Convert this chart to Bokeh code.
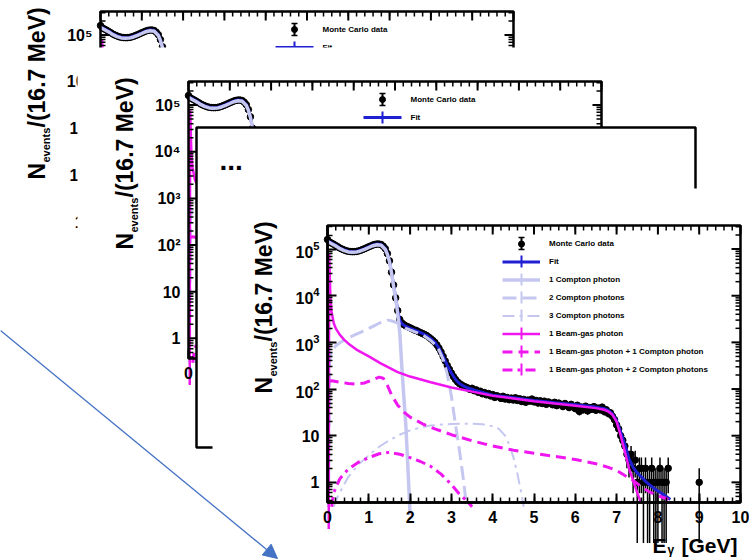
import numpy as np
from bokeh.plotting import figure
from bokeh.models import (Range1d, LinearScale, LogScale, LinearAxis, LogAxis, FixedTicker,
                          LogTickFormatter, Legend, LegendItem, Arrow, NormalHead)
from bokeh.core.properties import value
from bokeh.embed import file_html
from bokeh.resources import INLINE

# ---------------- data ----------------
mc_step = 0.05
mc_y = [1.6e5, 1.42e5, 1.34e5, 1.27e5, 1.19e5, 1.12e5, 1.05e5, 1.0e5, 9.6e4, 9.2e4,
        9.0e4, 8.85e4, 8.8e4, 8.8e4, 8.9e4, 9.1e4, 9.4e4, 9.8e4, 1.02e5, 1.07e5,
        1.12e5, 1.17e5, 1.22e5, 1.26e5, 1.28e5, 1.28e5, 1.25e5, 1.15e5, 1.02e5, 8.0e4,
        5.6e4, 3.2e4, 1.7e4, 9.0e3, 4.8e3, 3.1e3, 2.6e3, 2.4e3, 2.25e3, 2.15e3,
        2.05e3, 1.95e3, 1.85e3, 1.8e3, 1.7e3, 1.62e3, 1.55e3, 1.48e3, 1.4e3, 1.3e3,
        1.2e3, 1.1e3, 1.0e3, 880, 750, 620, 500, 400, 320, 265,
        220, 185, 160, 142, 130, 122, 115, 110, 105,
        98, 104, 92, 96, 85, 90, 79, 84, 75, 80,
        71, 76, 66, 72, 68, 63, 70, 61, 66, 59,
        64, 58, 65, 57, 62, 54, 60, 52, 58, 55,
        61, 53, 57, 50, 56, 49, 55, 47, 53, 50,
        46, 52, 44, 50, 46, 42, 49, 44, 40, 47,
        42, 38, 45, 33, 41, 36, 43, 34, 40, 37,
        42, 35, 39, 36, 41, 33, 36, 30, 31, 26,
        22, 17, 14, 10, 8, 6, 4, 3, 4, 2,
        3, 1, 2, 2, 1, 2, 1, 1, 2, 1,
        1, 1, 2, 1, 1, 1, 2]
mc_extra_x = [9.0]
mc_extra_y = [1]

fit_x = [0.0, 0.1, 0.2, 0.3, 0.4, 0.5, 0.6, 0.7, 0.8, 0.9, 1.0, 1.1, 1.2, 1.3, 1.4,
         1.45, 1.5, 1.55, 1.6, 1.65, 1.7, 1.75, 1.8,
         1.9, 2.0, 2.1, 2.2, 2.3, 2.4, 2.5, 2.6, 2.7, 2.8, 2.9, 3.0, 3.1, 3.2, 3.3, 3.4,
         3.6, 3.8, 4.0, 4.5, 5.0, 5.5, 6.0, 6.5,
         6.7, 6.8, 6.9, 7.0, 7.1, 7.2, 7.3, 7.4, 7.5, 7.6, 7.7, 7.8, 7.9, 8.0, 8.1, 8.2, 8.3]
fit_y = [1.5e5, 1.35e5, 1.2e5, 1.05e5, 9.6e4, 9.0e4, 8.8e4, 8.9e4, 9.4e4, 1.02e5, 1.12e5, 1.22e5, 1.28e5, 1.25e5, 1.02e5,
         8.0e4, 5.6e4, 3.2e4, 1.7e4, 9.0e3, 4.8e3, 3.0e3, 2.5e3,
         2.2e3, 2.0e3, 1.85e3, 1.7e3, 1.55e3, 1.4e3, 1.2e3, 1.0e3, 750, 500, 320, 220, 160, 130, 115, 105,
         92, 82, 74, 65, 57, 51, 46, 41,
         38, 35, 29, 21, 12, 6.5, 3.2, 2.1, 1.6, 1.3, 1.05, 0.88, 0.75, 0.65, 0.57, 0.5, 0.43]

c1_x = [0.0, 0.1, 0.2, 0.3, 0.4, 0.5, 0.6, 0.7, 0.8, 0.9, 1.0, 1.1, 1.2, 1.3, 1.4,
        1.45, 1.5, 1.55, 1.6, 1.65, 1.7, 1.75, 1.8, 1.85, 1.9, 1.95, 2.0]
c1_y = [1.45e5, 1.3e5, 1.16e5, 1.02e5, 9.3e4, 8.7e4, 8.5e4, 8.6e4, 9.1e4, 9.9e4, 1.08e5, 1.18e5, 1.24e5, 1.21e5, 9.8e4,
        7.7e4, 5.4e4, 3.1e4, 1.6e4, 8.5e3, 4.2e3, 1.6e3, 300, 65, 15, 1.8, 0.2]

c2_x = [0.02, 0.05, 0.1, 0.2, 0.3, 0.5, 0.7, 0.9, 1.1, 1.3, 1.45, 1.55, 1.7,
        1.9, 2.1, 2.3, 2.5, 2.6, 2.7, 2.8, 2.9, 3.0, 3.1, 3.2, 3.3, 3.35]
c2_y = [0.3, 400, 650, 850, 980, 1.25e3, 1.5e3, 1.8e3, 2.2e3, 2.7e3, 3.0e3, 2.9e3, 2.6e3,
        2.0e3, 1.7e3, 1.45e3, 1.1e3, 900, 680, 430, 210, 70, 17, 4.5, 1.0, 0.4]

c3_x = [0.15, 0.25, 0.5, 0.75, 1.0, 1.25, 1.5, 1.75, 2.0, 2.25, 2.5, 2.75,
        3.0, 3.25, 3.5, 3.75, 4.0, 4.15, 4.3, 4.4, 4.5, 4.6, 4.7, 4.75]
c3_y = [0.3, 0.5, 1.3, 2.4, 3.8, 5.8, 8.0, 10.5, 13, 15, 16.5, 17.3,
        17.8, 18, 18, 17.5, 16, 14, 10, 6.5, 3.5, 1.5, 0.55, 0.3]

bg1_x = [0.03, 0.04, 0.07, 0.1, 0.15, 0.2, 0.3, 0.4, 0.5, 0.7,
         1.0, 1.3, 1.7, 2.0, 2.5, 3.0, 3.5, 4.0, 4.5, 5.0,
         5.5, 6.0, 6.5, 6.7, 6.8, 6.9, 7.0, 7.1, 7.2, 7.3,
         7.4, 7.5, 7.6]
bg1_y = [0.1, 8e4, 9e3, 4.5e3, 2.6e3, 2.0e3, 1.45e3, 1.15e3, 950, 700,
         500, 350, 230, 185, 140, 108, 88, 72, 63, 55,
         49, 44, 39, 36, 33, 28, 20, 10, 4.5, 2.0,
         1.1, 0.6, 0.35]

bg1c1_x = [0.03, 0.1, 0.3, 0.5, 0.7, 0.9, 1.1, 1.25, 1.35, 1.45,
           1.55, 1.7, 1.85, 2.0, 2.3, 2.6, 3.0, 3.5, 4.0, 4.5,
           5.0, 5.5, 6.0, 6.5, 6.8, 7.0, 7.2, 7.4, 7.6, 7.8,
           8.0, 8.2, 8.35]
bg1c1_y = [145, 150, 140, 132, 128, 135, 160, 180, 170, 120,
           75, 45, 32, 25, 18, 14, 10.5, 7.8, 6.0, 4.9,
           4.2, 3.6, 3.1, 2.5, 2.1, 1.8, 1.4, 1.1, 0.8, 0.62,
           0.52, 0.45, 0.38]

bg1c2_x = [0.1, 0.15, 0.3, 0.5, 0.75, 1.0, 1.25, 1.5, 1.75, 2.0, 2.25, 2.5, 2.75, 3.0, 3.2, 3.4, 3.5]
bg1c2_y = [0.3, 0.6, 1.2, 1.9, 2.7, 3.4, 4.1, 4.4, 4.0, 3.4, 2.8, 2.2, 1.5, 0.9, 0.55, 0.38, 0.3]

legend_labels = ["Monte Carlo data", "Fit", "1 Compton photon", "2 Compton photons",
                 "3 Compton photons", "1 Beam-gas photon",
                 "1 Beam-gas photon + 1 Compton photon",
                 "1 Beam-gas photon + 2 Compton photons"]
x_ticks = [0, 1, 2, 3, 4, 5, 6, 7, 8, 9, 10]
y_ticks = [1, 10, 100, 1000, 10000, 100000]
y_tick_text = ["1", "10", "10\u00b2", "10\u00b3", "10\u2074", "10\u2075"]

# ---------------- derived ----------------
mc_x_all = list(np.round(np.arange(len(mc_y)) * mc_step, 2)) + mc_extra_x
mc_y_all = np.array(mc_y + mc_extra_y, dtype=float)
mc_err = np.sqrt(mc_y_all)
mc_lo = np.maximum(mc_y_all - mc_err, 0.05)
mc_hi = mc_y_all + mc_err

# ---------------- geometry (canvas pixels) ----------------
W, H = 749, 559
FL, FR, FT, FB = 327, 740, 225, 502          # front frame
X0, X1, Y0, Y1 = 0.0, 10.0, 0.37, 3.2e5
KX = (FR - FL) / (X1 - X0)
KY = (FB - FT) / (np.log10(Y1) - np.log10(Y0))
P1 = (-227, -214)
P2 = (-139, -144)

FONT = value("Liberation Sans")
BLUE = "#1f1fd4"
LAV = "#c5c7f0"
MAG = "#f016f0"
ARROW_C = "#4472c4"


def panel_ranges(dx, dy):
    fl, fb = FL + dx, FB + dy
    ly0 = np.log10(Y0)
    xr = Range1d(X0 - fl / KX, X0 + (W - fl) / KX)
    yr = Range1d(10 ** (ly0 - (H - fb) / KY), 10 ** (ly0 + fb / KY))
    return xr, yr


xr0, yr0 = panel_ranges(0, 0)
p = figure(width=W, height=H, x_range=xr0, y_range=yr0, y_axis_type="log",
           x_axis_location=None, y_axis_location=None, toolbar_location=None,
           output_backend="svg", min_border=0, outline_line_color=None,
           background_fill_color="white", border_fill_color="white")
p.grid.visible = False

x1r, y1r = panel_ranges(*P1)
x2r, y2r = panel_ranges(*P2)
p.extra_x_ranges = {"p1x": x1r, "p2x": x2r, "px": Range1d(0, W)}
p.extra_y_ranges = {"p1y": y1r, "p2y": y2r, "px": Range1d(H, 0)}
p.extra_x_scales = {"p1x": LinearScale(), "p2x": LinearScale(), "px": LinearScale()}
p.extra_y_scales = {"p1y": LogScale(), "p2y": LogScale(), "px": LinearScale()}

PX = dict(x_range_name="px", y_range_name="px")
x_minor = [round(0.2 * i, 1) for i in range(51)]
y_minor = [k * 10 ** n for n in range(-1, 6) for k in range(2, 10) if Y0 <= k * 10 ** n <= Y1]


def draw_series(xn, yn):
    kw = dict(x_range_name=xn, y_range_name=yn)
    r = {}
    r["err"] = p.segment(mc_x_all, mc_lo, mc_x_all, mc_hi, line_color="black", line_width=1.5, **kw)
    r["mc"] = p.scatter(mc_x_all, list(mc_y_all), size=6.5, marker="circle",
                        fill_color="black", line_color="black", **kw)
    r["fit"] = p.line(fit_x, fit_y, line_color=BLUE, line_width=3, **kw)
    r["c1"] = p.line(c1_x, c1_y, line_color=LAV, line_width=3.5, **kw)
    r["c2"] = p.line(c2_x, c2_y, line_color=LAV, line_width=3, line_dash="14 6", **kw)
    r["c3"] = p.line(c3_x, c3_y, line_color=LAV, line_width=2, line_dash="12 5 3 5", **kw)
    r["bg1"] = p.line(bg1_x, bg1_y, line_color=MAG, line_width=2.5, **kw)
    r["bg1c1"] = p.line(bg1c1_x, bg1c1_y, line_color=MAG, line_width=3, line_dash="10 6", **kw)
    r["bg1c2"] = p.line(bg1c2_x, bg1c2_y, line_color=MAG, line_width=3, line_dash="10 5 3 5", **kw)
    return r


def draw_ticks(xn, yn, sides):
    kw = dict(x_range_name=xn, y_range_name=yn, line_color="black")
    fy_maj, fy_min = 10 ** (9 / KY), 10 ** (5 / KY)
    fx_maj, fx_min = 9 / KX, 5 / KX
    xm = [float(t) for t in x_ticks]
    n, m = len(xm), len(x_minor)
    ny, my = len(y_ticks), len(y_minor)
    if "top" in sides:
        p.segment(xm, [Y1] * n, xm, [Y1 / fy_maj] * n, line_width=2, **kw)
        p.segment(x_minor, [Y1] * m, x_minor, [Y1 / fy_min] * m, line_width=1.5, **kw)
    if "bottom" in sides:
        p.segment(xm, [Y0] * n, xm, [Y0 * fy_maj] * n, line_width=2, **kw)
        p.segment(x_minor, [Y0] * m, x_minor, [Y0 * fy_min] * m, line_width=1.5, **kw)
    if "left" in sides:
        p.segment([X0] * ny, y_ticks, [X0 + fx_maj] * ny, y_ticks, line_width=2, **kw)
        p.segment([X0] * my, y_minor, [X0 + fx_min] * my, y_minor, line_width=1.5, **kw)
    if "right" in sides:
        p.segment([X1] * ny, y_ticks, [X1 - fx_maj] * ny, y_ticks, line_width=2, **kw)
        p.segment([X1] * my, y_minor, [X1 - fx_min] * my, y_minor, line_width=1.5, **kw)
    p.quad(left=[X0], right=[X1], bottom=[Y0], top=[Y1], fill_color=None, line_width=2.5, **kw)


def draw_tick_labels(xn, yn):
    n, ny = len(x_ticks), len(y_ticks)
    tk = dict(x_range_name=xn, y_range_name=yn, text_font=FONT, text_font_style="bold",
              text_font_size="16px", text_color="black")
    p.text(x=[X0] * ny, y=y_ticks, text=y_tick_text, x_offset=-8, text_align="right",
           text_baseline="middle", **tk)
    p.text(x=x_ticks, y=[Y0] * n, text=[str(t) for t in x_ticks], y_offset=8,
           text_align="center", text_baseline="top", **tk)


def draw_ylabel(dx, dy):
    kw = dict(angle=np.pi / 2, text_align="left", text_baseline="alphabetic",
              text_font=FONT, text_font_style="bold", text_color="black", **PX)
    p.text(x=[263 + dx], y=[393 + dy], text=["N"], text_font_size="23px", **kw)
    p.text(x=[272 + dx], y=[376 + dy], text=["events"], text_font_size="11px", **kw)
    p.text(x=[263 + dx], y=[341 + dy], text=["/(16.7 MeV)"], text_font_size="23px", **kw)


def draw_legend_marks(dx, dy, n_items):
    # vertical error-bar marks drawn in the middle of each legend sample
    colors = ["black", BLUE, LAV, LAV, LAV, MAG, MAG, MAG]
    for i in range(n_items):
        yc = 243 + 18 * i + dy
        xc = 521 + dx
        p.segment([xc], [yc - 6], [xc], [yc + 6], line_color=colors[i], line_width=2, **PX)
    yc = 243 + dy
    p.segment([518 + dx, 518 + dx], [yc - 6, yc + 6], [524 + dx, 524 + dx], [yc - 6, yc + 6],
              line_color="black", line_width=1.5, **PX)


def draw_mini_legend(dx, dy):
    t = dict(text_font=FONT, text_font_style="bold", text_font_size="8px",
             text_baseline="middle", text_align="left", text_color="black", **PX)
    draw_legend_marks(dx, dy, 2)
    p.scatter([521 + dx], [243 + dy], size=6, color="black", **PX)
    p.text([549 + dx], [243 + dy], [legend_labels[0]], **t)
    p.segment([502 + dx], [261 + dy], [540 + dx], [261 + dy], line_color=BLUE, line_width=3, **PX)
    p.text([549 + dx], [261 + dy], [legend_labels[1]], **t)


def draw_back_panel(name, off):
    dx, dy = off
    draw_series(name + "x", name + "y")
    draw_ticks(name + "x", name + "y", ("top", "bottom", "left", "right"))
    draw_tick_labels(name + "x", name + "y")
    draw_ylabel(dx, dy)
    draw_mini_legend(dx, dy)


# ---- back panel 1 ----
draw_back_panel("p1", P1)
# ---- back panel 2 (covers panel 1) ----
p.quad(left=[77], right=[628], top=[47], bottom=[438], fill_color="white", line_color=None, **PX)
draw_back_panel("p2", P2)
# ---- panel 3: empty slide with "..." ----
p.quad(left=[196], right=[695], top=[127], bottom=[447], fill_color="white",
       line_color="black", line_width=2.5, **PX)
p.text(x=[219], y=[160], text=["..."], text_font=FONT, text_font_style="bold",
       text_font_size="28px", text_baseline="alphabetic", text_align="left", **PX)
# ---- front panel background ----
p.quad(left=[212], right=[W], top=[188], bottom=[H], fill_color="white", line_color=None, **PX)

# ---- front chart ----
draw_legend_marks(0, 0, len(legend_labels))
R = draw_series("default", "default")
draw_ticks("default", "default", ("top", "right"))
draw_ylabel(0, 0)
xl = dict(text_font=FONT, text_font_style="bold", text_baseline="alphabetic", text_color="black", **PX)
p.text(x=[652], y=[545], text=["E"], text_font_size="21px", text_align="left", **xl)
p.text(x=[667], y=[549], text=["\u03b3"], text_font_size="12px", text_align="left", **xl)
p.text(x=[737], y=[545], text=["[GeV]"], text_font_size="21px", text_align="right", **xl)

xt = FixedTicker(ticks=x_ticks, minor_ticks=x_minor)
yt = FixedTicker(ticks=y_ticks, minor_ticks=y_minor)
ax_b = LinearAxis(ticker=xt, fixed_location=Y0, bounds=(X0, X1))
ax_l = LogAxis(ticker=yt, formatter=LogTickFormatter(min_exponent=1),
               major_label_overrides={1: "1", 10: "10"}, fixed_location=X0, bounds=(Y0, Y1))
for ax in (ax_b, ax_l):
    ax.axis_line_width = 2.5
    ax.axis_line_color = "black"
    ax.major_tick_in = 9
    ax.major_tick_out = 0
    ax.major_tick_line_width = 2
    ax.minor_tick_in = 5
    ax.minor_tick_out = 0
    ax.minor_tick_line_width = 1.5
    ax.major_label_text_font = "Liberation Sans"
    ax.major_label_text_font_style = "bold"
    ax.major_label_text_font_size = "16px"
    ax.major_label_text_color = "black"
    ax.major_label_standoff = 8
p.add_layout(ax_b, "below")
p.add_layout(ax_l, "left")

order = ["mc", "fit", "c1", "c2", "c3", "bg1", "bg1c1", "bg1c2"]
items = [LegendItem(label=lab, renderers=[R[k]]) for lab, k in zip(legend_labels, order)]
legend = Legend(items=items, location=(502, 182), orientation="vertical",
                glyph_width=38, glyph_height=15, label_height=15, spacing=3,
                padding=0, margin=0, label_standoff=9,
                label_text_font="Liberation Sans", label_text_font_style="bold",
                label_text_font_size="8px", label_text_color="black",
                border_line_alpha=0, background_fill_alpha=0)
p.add_layout(legend)

arrow = Arrow(end=NormalHead(size=14, fill_color=ARROW_C, line_color=ARROW_C),
              x_start=0, y_start=330, x_end=277, y_end=558,
              line_color=ARROW_C, line_width=1.3, **PX)
p.add_layout(arrow)

open("out.html", "w").write(file_html(p, INLINE, title="Monte Carlo fit"))
